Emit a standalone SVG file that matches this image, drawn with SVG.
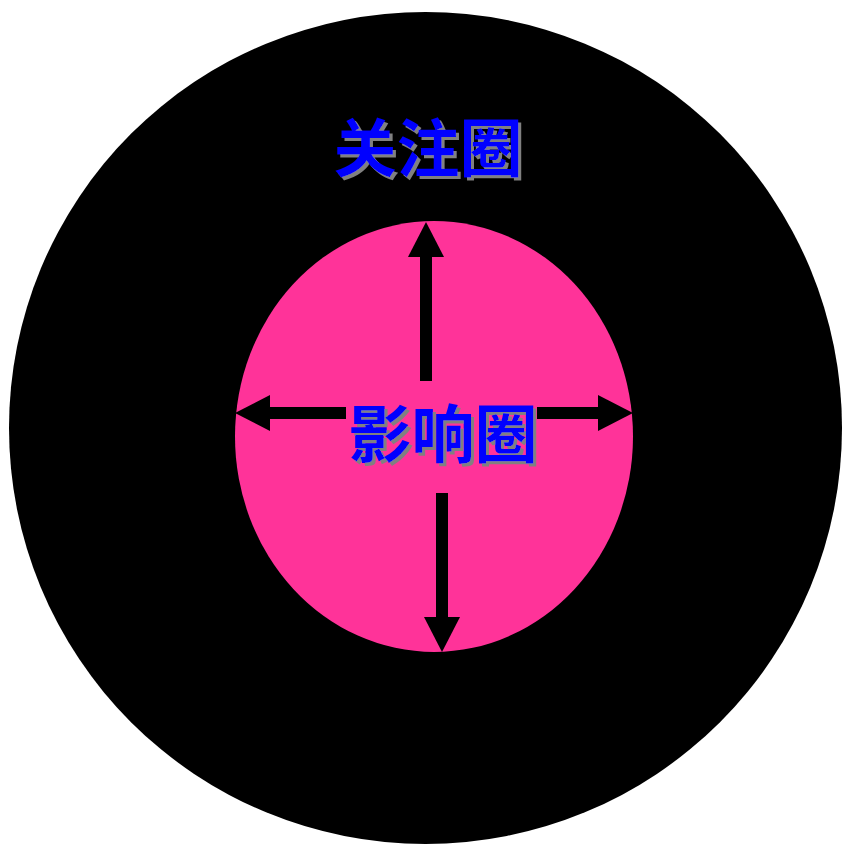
<svg xmlns="http://www.w3.org/2000/svg" width="842" height="844" viewBox="0 0 842 844">
<defs>
<filter id="shadow" x="-10%" y="-10%" width="130%" height="130%">
<feDropShadow dx="3" dy="3" stdDeviation="0" flood-color="#808080" flood-opacity="1"/>
</filter>
</defs>
<style>
.lbl{font-family:"Noto Sans CJK SC","Noto Sans CJK JP",sans-serif;font-weight:bold;font-size:63px;text-anchor:middle;fill:#0000ff;filter:url(#shadow)}
.shaft{stroke:#000;stroke-width:12}
</style>
<rect width="842" height="844" fill="#fff"/>
<g id="outer">
<ellipse cx="425.5" cy="428" rx="416.5" ry="416" fill="#000"/>
<text class="lbl" x="428" y="171">关注圈</text>
</g>
<g id="inner">
<ellipse cx="434" cy="436.5" rx="199" ry="215.5" fill="#ff3399"/>
</g>
<g id="connectors">
<line class="shaft" x1="426" y1="381" x2="426" y2="252"/>
<polygon points="426,222 408,257 444,257" fill="#000"/>
<line class="shaft" x1="442" y1="493" x2="442" y2="620"/>
<polygon points="442,652 424,617 460,617" fill="#000"/>
<line class="shaft" x1="346" y1="413" x2="265" y2="413"/>
<polygon points="235,413 270,395 270,431" fill="#000"/>
<line class="shaft" x1="537" y1="413" x2="603" y2="413"/>
<polygon points="633,413 598,395 598,431" fill="#000"/>
</g>
<g id="label-inner">
<text class="lbl" x="443" y="457">影响圈</text>
</g>
</svg>
